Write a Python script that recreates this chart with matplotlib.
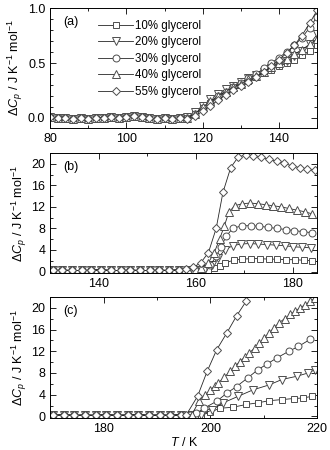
import numpy as np
import matplotlib
matplotlib.use("Agg")
import matplotlib.pyplot as plt
from matplotlib.ticker import MultipleLocator, FormatStrFormatter

plt.rcParams['font.family'] = ['Liberation Sans', 'DejaVu Sans']
plt.rcParams['mathtext.fontset'] = 'custom'
plt.rcParams['mathtext.rm'] = 'Liberation Sans'
plt.rcParams['mathtext.it'] = 'Liberation Sans:italic'
plt.rcParams['font.size'] = 9

labels = ['10% glycerol', '20% glycerol', '30% glycerol', '40% glycerol', '55% glycerol']
markers = ['s', 'v', 'o', '^', 'D']
msizes = [4.6, 5.6, 5.0, 5.6, 4.3]

# Panel (a)
a_flat_T = [80, 82, 84, 86, 88, 90, 92, 94, 96, 98, 100, 102, 104, 106, 108, 110, 112, 114]
a_flat_v = [0.01, 0.0, 0.0, -0.01, 0.0, -0.01, 0.0, 0.0, 0.01, 0.0, 0.01, 0.02, 0.01, 0.0, -0.01, 0.0, -0.01, 0.0]
a_T = [116, 118, 120, 122, 124, 126, 128, 130, 132, 134, 136, 138, 140, 142, 144, 146, 148, 150]
a_10 = [0.0, 0.04, 0.09, 0.14, 0.19, 0.23, 0.27, 0.31, 0.34, 0.38, 0.41, 0.44, 0.47, 0.50, 0.53, 0.57, 0.61, 0.66]
a_20 = [0.01, 0.05, 0.11, 0.17, 0.22, 0.26, 0.29, 0.33, 0.36, 0.39, 0.42, 0.45, 0.49, 0.52, 0.56, 0.61, 0.67, 0.76]
a_30 = [0.0, 0.04, 0.09, 0.14, 0.20, 0.24, 0.28, 0.32, 0.36, 0.40, 0.45, 0.50, 0.55, 0.60, 0.66, 0.73, 0.82, 0.92]
a_40 = [0.0, 0.04, 0.10, 0.15, 0.20, 0.24, 0.28, 0.31, 0.35, 0.38, 0.42, 0.46, 0.50, 0.54, 0.58, 0.62, 0.67, 0.72]
a_55 = [-0.01, 0.02, 0.06, 0.11, 0.16, 0.21, 0.25, 0.29, 0.33, 0.37, 0.42, 0.47, 0.53, 0.59, 0.66, 0.75, 0.86, 0.98]

# Panel (b)
b_flat_T = [130.5, 132.5, 134.5, 136.5, 138.5, 140.5, 142.5, 144.5, 146.5, 148.5, 150.5, 152.5, 154.5, 156.5]
b_flat_v = [0.2, 0.25, 0.2, 0.2, 0.25, 0.3, 0.2, 0.2, 0.25, 0.2, 0.2, 0.25, 0.2, 0.3]
b_T_10 = [158.5, 160.5, 162.5, 163.8, 164.9, 166.0, 167.8, 169.6, 171.4, 173.2, 175.0, 176.8, 178.6, 180.4, 182.2, 184.0]
b_10 = [0.2, 0.2, 0.2, 0.6, 1.1, 1.6, 2.1, 2.3, 2.4, 2.4, 2.3, 2.3, 2.2, 2.2, 2.1, 2.0]
b_T_20 = [158.5, 160.5, 162.0, 163.4, 164.6, 166.0, 167.6, 169.3, 171.1, 172.9, 174.7, 176.5, 178.3, 180.1, 181.9, 183.7]
b_20 = [0.2, 0.3, 0.4, 1.2, 2.6, 4.0, 4.8, 5.1, 5.2, 5.1, 5.0, 4.9, 4.8, 4.6, 4.5, 4.4]
b_T_30 = [158.5, 160.0, 161.5, 163.0, 164.2, 165.2, 166.3, 167.6, 169.5, 171.3, 173.1, 174.9, 176.7, 178.5, 180.3, 182.1, 184.0]
b_30 = [0.2, 0.3, 0.5, 1.2, 2.8, 4.6, 6.6, 8.0, 8.5, 8.5, 8.4, 8.2, 8.0, 7.8, 7.6, 7.4, 7.2]
b_T_40 = [158.5, 160.0, 161.0, 162.5, 163.8, 164.9, 165.9, 166.8, 168.0, 169.6, 171.2, 172.8, 174.4, 176.0, 177.6, 179.2, 180.8, 182.4, 184.0]
b_40 = [0.3, 0.4, 0.6, 1.5, 3.5, 6.0, 8.5, 11.0, 12.2, 12.6, 12.7, 12.6, 12.4, 12.2, 12.0, 11.7, 11.4, 11.1, 10.7]
b_T_55 = [158.0, 159.5, 161.0, 162.6, 164.2, 165.6, 167.2, 168.7, 170.3, 171.8, 173.4, 175.0, 176.7, 178.2, 179.8, 181.4, 183.0, 184.6]
b_55 = [0.4, 0.8, 1.6, 3.5, 8.0, 14.7, 19.3, 21.2, 21.7, 21.5, 21.3, 20.8, 20.5, 20.1, 19.6, 19.3, 19.0, 18.8]

# Panel (c)
c_flat_T = [170.5, 172.5, 174.5, 176.5, 178.5, 180.5, 182.5, 184.5, 186.5, 188.5, 190.5, 192.5, 194.5]
c_flat_v = [0.2, 0.3, 0.2, 0.25, 0.2, 0.3, 0.2, 0.25, 0.3, 0.2, 0.25, 0.2, 0.3]
c_T_10 = [196.5, 198.3, 200.0, 201.8, 204.3, 206.7, 208.9, 211.0, 213.4, 215.6, 217.4, 219.0]
c_10 = [0.2, 0.2, 0.8, 1.5, 1.7, 2.2, 2.5, 2.9, 3.1, 3.3, 3.4, 3.7]
c_T_20 = [196.5, 198.3, 200.3, 202.4, 205.2, 208.0, 211.0, 213.4, 216.2, 218.3, 219.6]
c_20 = [0.2, 0.3, 1.2, 2.5, 3.7, 4.9, 5.8, 6.8, 7.4, 8.0, 8.6]
c_T_30 = [196.2, 197.4, 198.8, 201.2, 203.1, 204.9, 207.0, 208.9, 210.7, 212.5, 214.7, 216.5, 218.7]
c_30 = [0.2, 0.6, 1.5, 2.8, 4.3, 5.5, 7.1, 8.6, 9.7, 10.8, 12.0, 12.9, 14.2]
c_T_40 = [196.5, 197.9, 199.0, 200.0, 200.8, 201.5, 202.6, 203.7, 204.6, 205.5, 206.4, 207.3, 208.3,
          209.2, 210.1, 211.0, 211.9, 212.8, 213.9, 215.0, 215.9, 216.8, 217.8, 218.7, 219.6]
c_40 = [0.3, 2.8, 3.9, 4.9, 5.6, 6.2, 7.2, 8.3, 9.2, 10.1, 10.9, 11.7, 12.6,
        13.5, 14.5, 15.4, 16.3, 17.2, 18.0, 18.8, 19.4, 20.0, 20.6, 21.2, 21.8]
c_T_55 = [195.5, 197.6, 199.4, 201.2, 203.1, 204.9, 206.7]
c_55 = [0.3, 3.7, 8.3, 12.3, 15.4, 18.5, 21.2]

fig = plt.figure(figsize=(3.3, 4.5), dpi=100)
ax_a = fig.add_axes([0.152, 0.716, 0.809, 0.266])
ax_b = fig.add_axes([0.152, 0.393, 0.809, 0.267])
ax_c = fig.add_axes([0.152, 0.071, 0.809, 0.269])

style = dict(color='0.15', lw=0.6, mfc='white', mec='0.3', mew=0.7)

for v, m, ms, lab in zip([a_10, a_20, a_30, a_40, a_55], markers, msizes, labels):
    ax_a.plot(a_flat_T + a_T, a_flat_v + v, marker=m, ms=ms, label=lab, **style)

b_series = [(b_T_10, b_10), (b_T_20, b_20), (b_T_30, b_30), (b_T_40, b_40), (b_T_55, b_55)]
for (t, v), m, ms in zip(b_series, markers, msizes):
    ax_b.plot(b_flat_T + t, b_flat_v + v, marker=m, ms=ms, **style)

c_series = [(c_T_10, c_10), (c_T_20, c_20), (c_T_30, c_30), (c_T_40, c_40), (c_T_55, c_55)]
for (t, v), m, ms in zip(c_series, markers, msizes):
    ax_c.plot(c_flat_T + t, c_flat_v + v, marker=m, ms=ms, **style)

ylab = r'$\Delta C_p$ / J K$^{-1}$ mol$^{-1}$'

ax_a.set_xlim(80, 150)
ax_a.set_ylim(-0.09, 1.0)
ax_a.xaxis.set_major_locator(MultipleLocator(20))
ax_a.xaxis.set_minor_locator(MultipleLocator(10))
ax_a.yaxis.set_major_locator(MultipleLocator(0.5))
ax_a.yaxis.set_minor_locator(MultipleLocator(0.1))
ax_a.yaxis.set_major_formatter(FormatStrFormatter('%.1f'))

ax_b.set_xlim(130, 185)
ax_b.set_ylim(-0.3, 22)
ax_b.xaxis.set_major_locator(MultipleLocator(20))
ax_b.xaxis.set_minor_locator(MultipleLocator(10))
ax_b.yaxis.set_major_locator(MultipleLocator(4))
ax_b.yaxis.set_minor_locator(MultipleLocator(2))

ax_c.set_xlim(170, 220)
ax_c.set_ylim(-0.3, 22)
ax_c.xaxis.set_major_locator(MultipleLocator(20))
ax_c.xaxis.set_minor_locator(MultipleLocator(10))
ax_c.yaxis.set_major_locator(MultipleLocator(4))
ax_c.yaxis.set_minor_locator(MultipleLocator(2))
ax_c.set_xlabel(r'$T$ / K', labelpad=1)

for ax, tag in zip([ax_a, ax_b, ax_c], ['(a)', '(b)', '(c)']):
    ax.tick_params(which='both', direction='in', top=True, right=True, labelsize=9)
    ax.tick_params(which='major', length=4, width=0.6)
    ax.tick_params(which='minor', length=2, width=0.6)
    for s in ax.spines.values():
        s.set_linewidth(0.7)
    ax.set_ylabel(ylab, labelpad=2)
    ax.text(0.05, 0.86, tag, transform=ax.transAxes, fontsize=9)

ax_a.legend(loc='upper left', bbox_to_anchor=(0.18, 0.9), frameon=False, fontsize=8.3,
            handlelength=3.0, handletextpad=0.2, labelspacing=0.38, borderaxespad=0.0,
            borderpad=0.0)

fig.savefig('out.png', dpi=100)
